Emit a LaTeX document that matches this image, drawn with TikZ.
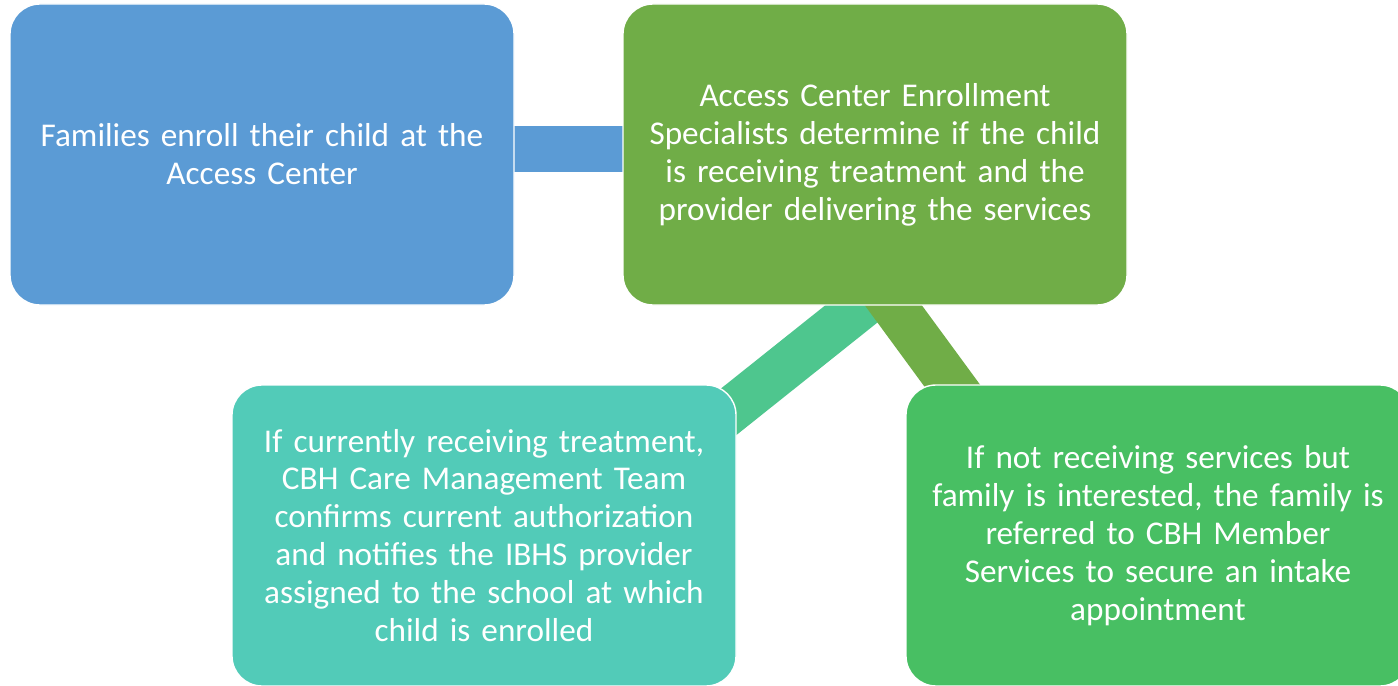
\documentclass[tikz,border=0pt]{standalone}
\usepackage{fontspec}
\setmainfont{Carlito}
\usetikzlibrary{positioning,backgrounds}

\definecolor{boxblue}{HTML}{5B9BD5}
\definecolor{boxolive}{HTML}{70AD47}
\definecolor{boxteal}{HTML}{52CBB8}
\definecolor{boxgreen}{HTML}{48BF63}
\definecolor{linkteal}{HTML}{4EC68E}

\begin{document}
\begin{tikzpicture}[
		step box/.style={
			draw=white,
			line width=0.8pt,
			rounded corners=0.6cm,
			minimum width=10.08cm,
			minimum height=6.02cm,
			text width=9.8cm,
			align=center,
			text=white,
			font=\fontsize{18.9}{21.6}\selectfont
		},
		link/.style={
			line width=0.92cm,
			line cap=butt
		}
		]
		\useasboundingbox (0,0) rectangle (27.96,13.7);
		\clip (0,0) rectangle (27.96,13.7);
		% Boxes
		\node[step box,fill=boxblue] (enroll) at (5.24,10.61)
			{Families enroll their child at the\\Access Center};
		\node[step box,fill=boxolive] (specialist) at (17.5,10.61)
			{Access Center Enrollment\\Specialists determine if the child\\is receiving treatment and the\\provider delivering the services};
		\node[step box,fill=boxteal] (current) at (9.68,2.99)
			{If currently receiving treatment,\\CBH Care Management Team\\confirms current authorization\\and notifies the IBHS provider\\assigned to the school at which\\child is enrolled};
		\node[step box,fill=boxgreen] (referred) at (23.16,2.99)
			{If not receiving services but\\family is interested, the family is\\referred to CBH Member\\Services to secure an intake\\appointment};
		% Connectors
		\begin{scope}[on background layer]
			\draw[link,boxblue] ([yshift=0.11cm]enroll.center) -- ([yshift=0.11cm]specialist.center);
			\draw[link,linkteal] ([xshift=1.2cm,yshift=1.17cm]specialist.south) -- ([xshift=-0.7cm,yshift=-0.98cm]current.north east);
			\draw[link,boxolive] ([xshift=-0.75cm,yshift=1.53cm]specialist.south) -- ([xshift=1.58cm,yshift=-0.9cm]referred.north west);
		\end{scope}
	\end{tikzpicture}
\end{document}
